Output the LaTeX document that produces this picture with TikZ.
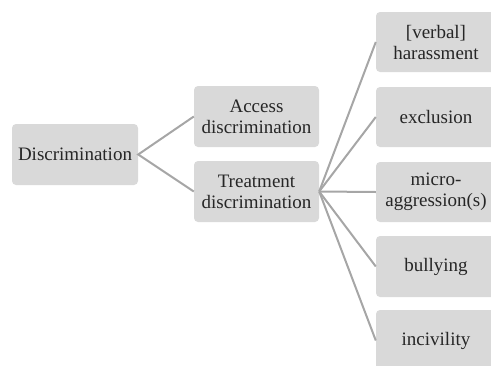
\documentclass[tikz,border=0pt]{standalone}
\usepackage{fontspec}
\setmainfont{Liberation Serif}
\definecolor{boxfill}{HTML}{D9D9D9}
\definecolor{linec}{HTML}{A6A6A6}
\definecolor{txt}{HTML}{262626}
\begin{document}
\begin{tikzpicture}[x=1pt,y=-1pt,
  box/.style={fill=boxfill,rounded corners=4pt,inner sep=0pt,align=center,
    font=\fontsize{19}{21}\selectfont,text=txt},
  conn/.style={draw=linec,line width=2pt}]
\useasboundingbox (0,0) rectangle (491,365);
\begin{scope}
\clip (0,0) rectangle (491,365);
\node[box,minimum width=126pt,minimum height=61pt] (d) at (75,154.5) {Discrimination};
\node[box,minimum width=125pt,minimum height=61pt] (a) at (256.5,116.5) {Access\\discrimination};
\node[box,minimum width=125pt,minimum height=61pt] (t) at (256.5,191.5) {Treatment\\discrimination};
\node[box,minimum width=120pt,minimum height=60pt] (r1) at (436,42) {[verbal]\\harassment};
\node[box,minimum width=120pt,minimum height=60pt] (r2) at (436,117) {exclusion};
\node[box,minimum width=120pt,minimum height=60pt] (r3) at (436,192) {micro-\\aggression(s)};
\node[box,minimum width=120pt,minimum height=61pt] (r4) at (436,266.5) {bullying};
\node[box,minimum width=120pt,minimum height=61pt] (r5) at (436,340.5) {incivility};
\end{scope}
\draw[conn] (a.west) -- (d.east) -- (t.west);
\foreach \n in {r1,r2,r3,r4,r5} \draw[conn] (t.east) -- (\n.west);
\end{tikzpicture}
\end{document}
